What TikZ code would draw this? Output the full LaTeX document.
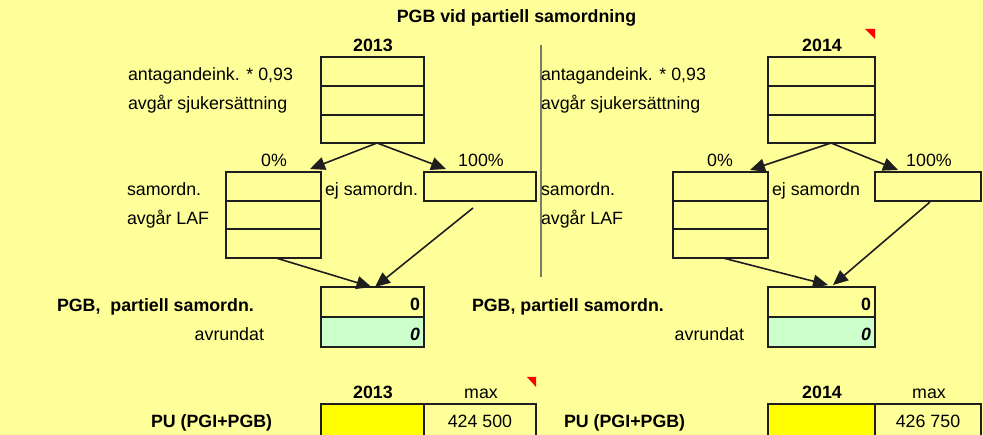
\documentclass[tikz,border=0pt]{standalone}
\usepackage{fontspec}
\setmainfont{Liberation Sans}
\usetikzlibrary{arrows.meta}
\definecolor{bgy}{HTML}{FFFF99}
\definecolor{lgreen}{HTML}{CCFFCC}
\definecolor{yel}{HTML}{FFFF00}
\definecolor{sepgray}{HTML}{7A7A6A}
\definecolor{edge}{HTML}{1E1E1E}
\begin{document}
\begin{tikzpicture}[x=1pt,y=-1pt,
  every node/.style={font=\fontsize{17.8}{21}\selectfont, inner sep=0pt, outer sep=0pt},
  cell/.style={draw=edge, line width=1.3pt, rectangle, anchor=north west},
  thickcell/.style={cell, line width=2.3pt},
  lbl/.style={anchor=base west},
  lblc/.style={anchor=base},
  lblr/.style={anchor=base east},
  bold/.style={font=\fontsize{17.8}{21}\selectfont\bfseries},
  bolditalic/.style={font=\fontsize{17.8}{21}\selectfont\bfseries\itshape},
  arr/.style={draw=edge, line width=1.6pt, -{Triangle[length=15pt,width=13pt]}},
  sepline/.style={draw=sepgray, line width=1.8pt},
  flag/.style={fill=red}
]
\useasboundingbox (0,0) rectangle (983,435);
\clip (0,0) rectangle (983,435);
\fill[bgy] (0,0) rectangle (983,435);

% ---------- title ----------
\node[bold, lblc] (title) at (516.5,23) {PGB vid partiell samordning};

% ---------- left section (2013) ----------
\node[bold, lblc] (y13) at (373,52) {2013};
\node[cell, minimum width=103pt, minimum height=29pt] (t13a) at (321,57) {};
\node[cell, minimum width=103pt, minimum height=29pt] (t13b) at (321,86) {};
\node[cell, minimum width=103pt, minimum height=28pt] (t13c) at (321,115) {};
\node[lbl] (l13a) at (128,81) {antagandeink. * 0,93};
\node[lbl] (l13b) at (128,110) {avgår sjukersättning};

\node[lblc] (pc0a) at (274,167) {0\%};
\node[lblc] (pc1a) at (481,167) {100\%};
\node[cell, minimum width=95pt, minimum height=29pt] (z13a) at (226,172) {};
\node[cell, minimum width=95pt, minimum height=28pt] (z13b) at (226,201) {};
\node[cell, minimum width=95pt, minimum height=29pt] (z13c) at (226,229) {};
\node[cell, minimum width=112pt, minimum height=29pt] (h13) at (424,172) {};
\node[lbl] (s13a) at (127,196) {samordn.};
\node[lbl] (s13b) at (127,225) {avgår LAF};
\node[lbl] (e13) at (325,196) {ej samordn.};

\node[cell, minimum width=103pt, minimum height=30pt] (p13) at (321,287) {};
\node[thickcell, fill=lgreen, minimum width=103pt, minimum height=30pt] (r13) at (321,317) {};
\node[bold, lbl] (pg13) at (57,312) {PGB,\ \ partiell samordn.};
\node[lblr] (av13) at (264,341) {avrundat};
\node[bold, lblr] (v13) at (420,311) {0};
\node[bolditalic, lblr] (w13) at (420,341) {0};

\node[bold, lblc] (yy13) at (373,399) {2013};
\node[lblc] (mx13) at (481,399) {max};
\node[cell, minimum width=112pt, minimum height=40pt] (m13) at (424,404) {};
\node[thickcell, fill=yel, minimum width=103pt, minimum height=40pt] (u13) at (321,404) {};
\node[bold, lbl] (pu13) at (151,428) {PU (PGI+PGB)};
\node[lblc] (n13) at (480,428) {424 500};
\fill[flag] (527,377) -- (536,377) -- (536,387) -- cycle;

\draw[arr] ([xshift=4.5pt]t13c.south) -- ([xshift=-11pt,yshift=3pt]z13a.north east);
\draw[arr] ([xshift=4.5pt]t13c.south) -- ([xshift=22pt,yshift=3pt]h13.north west);
\draw[arr] ([xshift=2.5pt]z13c.south) -- ([xshift=-1pt]p13.north);
\draw[arr] ([xshift=-7pt,yshift=-7pt]h13.south) -- ([xshift=2.5pt]p13.north);

% ---------- separator ----------
\draw[sepline] (541,45) -- (541,277);

% ---------- right section (2014) ----------
\node[bold, lblc] (y14) at (822,52) {2014};
\fill[flag] (865,29) -- (875,29) -- (875,39) -- cycle;
\node[cell, minimum width=107pt, minimum height=29pt] (t14a) at (768,57) {};
\node[cell, minimum width=107pt, minimum height=29pt] (t14b) at (768,86) {};
\node[cell, minimum width=107pt, minimum height=28pt] (t14c) at (768,115) {};
\node[lbl] (l14a) at (541,81) {antagandeink. * 0,93};
\node[lbl] (l14b) at (541,110) {avgår sjukersättning};

\node[lblc] (pc0b) at (720,167) {0\%};
\node[lblc] (pc1b) at (929,167) {100\%};
\node[cell, minimum width=95pt, minimum height=29pt] (z14a) at (673,172) {};
\node[cell, minimum width=95pt, minimum height=28pt] (z14b) at (673,201) {};
\node[cell, minimum width=95pt, minimum height=29pt] (z14c) at (673,229) {};
\node[cell, minimum width=106pt, minimum height=29pt] (h14) at (875,172) {};
\node[lbl] (s14a) at (541,196) {samordn.};
\node[lbl] (s14b) at (541,225) {avgår LAF};
\node[lbl] (e14) at (772,196) {ej samordn};

\node[cell, minimum width=107pt, minimum height=30pt] (p14) at (768,287) {};
\node[thickcell, fill=lgreen, minimum width=107pt, minimum height=30pt] (r14) at (768,317) {};
\node[bold, lbl] (pg14) at (472,312) {PGB, partiell samordn.};
\node[lblr] (av14) at (744,341) {avrundat};
\node[bold, lblr] (v14) at (871,311) {0};
\node[bolditalic, lblr] (w14) at (871,341) {0};

\node[bold, lblc] (yy14) at (822,399) {2014};
\node[lblc] (mx14) at (929,399) {max};
\node[cell, minimum width=106pt, minimum height=40pt] (m14) at (875,404) {};
\node[thickcell, fill=yel, minimum width=107pt, minimum height=40pt] (u14) at (768,404) {};
\node[bold, lbl] (pu14) at (564,428) {PU (PGI+PGB)};
\node[lblc] (n14) at (928,428) {426 750};

\draw[arr] ([xshift=9.5pt]t14c.south) -- ([xshift=-18pt,yshift=2pt]z14a.north east);
\draw[arr] ([xshift=9.5pt]t14c.south) -- ([xshift=23pt,yshift=2pt]h14.north west);
\draw[arr] ([xshift=2.5pt]z14c.south) -- ([xshift=6.5pt,yshift=2pt]p14.north);
\draw[arr] ([xshift=2pt,yshift=-1pt]h14.south) -- ([xshift=11.5pt,yshift=2pt]p14.north);
\end{tikzpicture}
\end{document}
